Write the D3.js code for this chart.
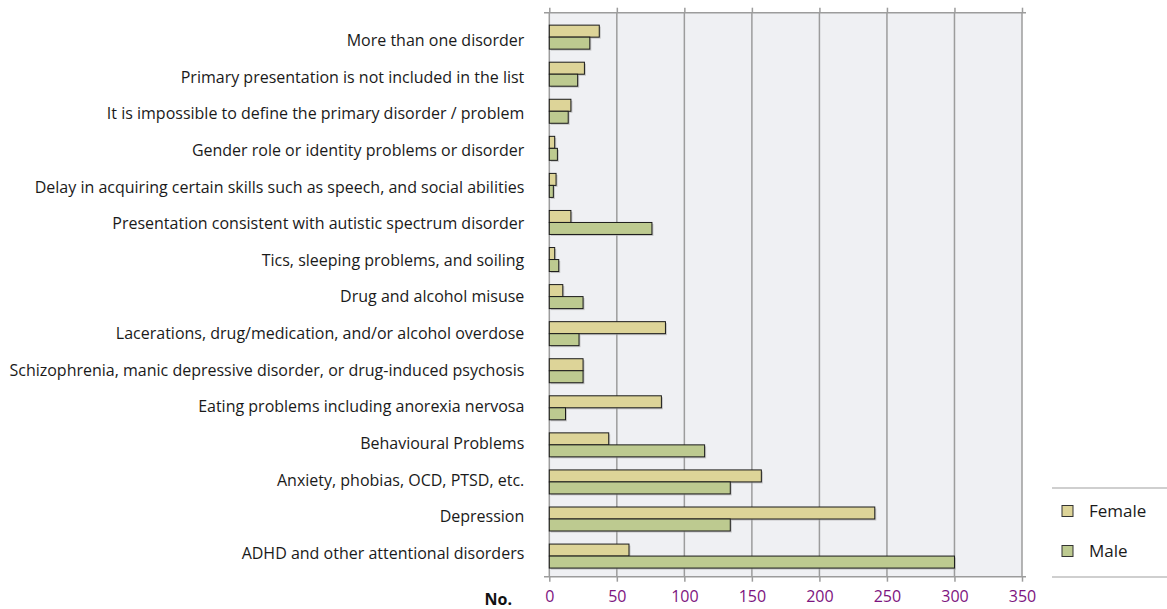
<!DOCTYPE html>
<html><head><meta charset="utf-8">
<script src="https://cdn.jsdelivr.net/npm/d3@7"></script>
<style>
body{margin:0;background:#fff;}
svg{display:block;font-family:"Open Sans","Noto Sans",sans-serif;}
</style></head><body>
<svg id="c" width="1167" height="609"></svg>
<script>
const categories = [
  "More than one disorder",
  "Primary presentation is not included in the list",
  "It is impossible to define the primary disorder / problem",
  "Gender role or identity problems or disorder",
  "Delay in acquiring certain skills such as speech, and social abilities",
  "Presentation consistent with autistic spectrum disorder",
  "Tics, sleeping problems, and soiling",
  "Drug and alcohol misuse",
  "Lacerations, drug/medication, and/or alcohol overdose",
  "Schizophrenia, manic depressive disorder, or drug-induced psychosis",
  "Eating problems including anorexia nervosa",
  "Behavioural Problems",
  "Anxiety, phobias, OCD, PTSD, etc.",
  "Depression",
  "ADHD and other attentional disorders"
];
const female = [37, 26, 16, 4, 5, 16, 4, 10, 86, 25, 83, 44, 157, 241, 59];
const male   = [30, 21, 14, 6, 3, 76, 7, 25, 22, 25, 12, 115, 134, 134, 300];
const seriesNames = ["Female", "Male"];
const tickValues = [0, 50, 100, 150, 200, 250, 300, 350];
const axisTitle = "No.";

const FONT = "'Open Sans', 'Noto Sans', sans-serif";
const colors = {Female: "#ddd498", Male: "#bdca90"};
const svg = d3.select("#c");
const x = d3.scaleLinear().domain([0, 350]).range([549.3, 1022]);
const y = d3.scaleBand().domain(categories).range([18.6, 574.6]);
const yLabel = d3.scalePoint().domain(categories).range([40, 553]);
const plotTop = 12.7, plotBottom = 576.7;
const barH = 12;

// plot background
svg.append("rect").attr("x", x(0)).attr("y", plotTop).attr("width", x(350) - x(0)).attr("height", plotBottom - plotTop).attr("fill", "#eff0f3");

// grid lines
svg.append("g").selectAll("line").data(tickValues).join("line")
  .attr("x1", d => x(d)).attr("x2", d => x(d)).attr("y1", plotTop).attr("y2", plotBottom)
  .attr("stroke", "#9c9c9c").attr("stroke-width", 1.5);

// top axis (ticks only)
const gTop = svg.append("g").attr("transform", `translate(0,${plotTop})`)
  .call(d3.axisTop(x).tickValues(tickValues).tickSize(5).tickSizeOuter(0).tickFormat(""));
gTop.select(".domain").remove();
gTop.selectAll(".tick line").attr("stroke", "#9c9c9c").attr("stroke-width", 1.5);
svg.append("line").attr("x1", 544).attr("x2", 1026).attr("y1", plotTop).attr("y2", plotTop).attr("stroke", "#9c9c9c").attr("stroke-width", 1.5);

// bottom axis
const gBot = svg.append("g").attr("transform", `translate(0,${plotBottom})`)
  .call(d3.axisBottom(x).tickValues(tickValues).tickSize(5).tickSizeOuter(0).tickPadding(9));
gBot.attr("font-family", FONT);
gBot.select(".domain").remove();
gBot.selectAll(".tick line").attr("stroke", "#9c9c9c").attr("stroke-width", 1.5);
gBot.selectAll(".tick text").attr("fill", "#7d1480").attr("font-size", 16);
svg.append("line").attr("x1", 544).attr("x2", 1026).attr("y1", plotBottom).attr("y2", plotBottom).attr("stroke", "#9c9c9c").attr("stroke-width", 1.5);

svg.append("text").attr("x", 512).attr("y", 605).attr("text-anchor", "end").attr("font-family", FONT)
  .attr("font-weight", "bold").attr("font-size", 16).attr("fill", "#111").text(axisTitle);

// category axis
const gL = svg.append("g").attr("transform", `translate(${x(0)},0)`)
  .call(d3.axisLeft(yLabel).tickSize(0).tickPadding(25));
gL.attr("font-family", FONT);
gL.select(".domain").remove();
gL.selectAll(".tick text").attr("font-size", 16).attr("fill", "#1a1a1a").attr("dy", "0.34em");

// bars
const rows = categories.map((c, i) => ({c, Female: female[i], Male: male[i]}));
seriesNames.forEach((s, si) => {
  const g = svg.append("g");
  const yy = d => y(d.c) + y.bandwidth() / 2 - barH + si * barH;
  g.selectAll("rect.sh").data(rows).join("rect").attr("class", "sh")
    .attr("x", x(0) + 1.5).attr("y", d => yy(d) + 1.5)
    .attr("width", d => x(d[s]) - x(0)).attr("height", barH)
    .attr("fill", "#a8a8a8").attr("opacity", 0.6);
  g.selectAll("rect.b").data(rows).join("rect").attr("class", "b")
    .attr("x", x(0)).attr("y", d => yy(d))
    .attr("width", d => x(d[s]) - x(0)).attr("height", barH)
    .attr("fill", colors[s]).attr("stroke", "#1a1a1a").attr("stroke-width", 1);
});

// legend
svg.append("line").attr("x1", 1052).attr("x2", 1167).attr("y1", 488).attr("y2", 488).attr("stroke", "#a0a0a0").attr("stroke-width", 1.2);
svg.append("line").attr("x1", 1052).attr("x2", 1167).attr("y1", 577).attr("y2", 577).attr("stroke", "#a0a0a0").attr("stroke-width", 1.2);
const lg = svg.append("g").attr("font-family", FONT).selectAll("g").data(seriesNames).join("g")
  .attr("transform", (d, i) => `translate(1062,${511 + i * 40})`);
lg.append("rect").attr("x", 0).attr("y", -5.5).attr("width", 11).attr("height", 11)
  .attr("fill", d => colors[d]).attr("stroke", "#333").attr("stroke-width", 1);
lg.append("text").attr("x", 27).attr("y", 0).attr("dy", "0.35em").attr("font-size", 17).attr("fill", "#1a1a1a").text(d => d);
</script>
</body></html>
